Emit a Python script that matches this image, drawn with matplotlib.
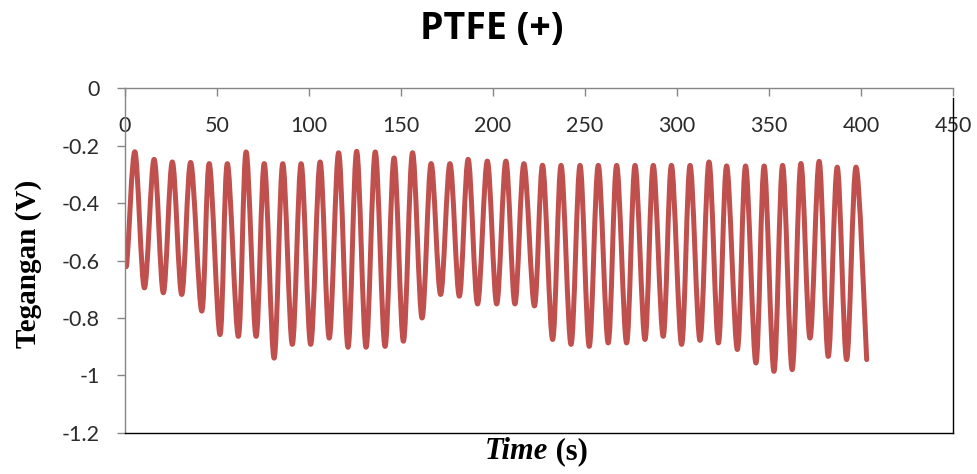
import numpy as np
import matplotlib
matplotlib.use("Agg")
import matplotlib.pyplot as plt
from matplotlib.path import Path
from matplotlib.patches import PathPatch

# PTFE (+) output voltage over time (peaks and troughs of each cycle)
time_s = [0, 1.0,
          5.4, 10.5, 15.8, 20.8, 25.7, 30.8, 35.7, 41.7, 45.8, 51.6,
          55.6, 61.6, 65.8, 71.2, 75.7, 81.0, 85.7, 90.9, 95.7, 100.9,
          106.0, 111.0, 116.1, 121.2, 125.9, 131.0, 136.0, 141.3, 146.2, 151.3,
          156.2, 161.4, 166.3, 171.5, 176.6, 181.7, 186.5, 191.6, 196.9, 202.0,
          207.0, 211.9, 216.8, 222.5, 227.0, 232.4, 237.0, 242.4, 247.3, 252.3,
          257.2, 262.6, 267.2, 272.6, 277.2, 282.6, 287.1, 292.5, 297.0, 302.5,
          307.1, 312.5, 317.4, 322.5, 327.0, 332.8, 337.3, 342.9, 347.4, 352.7,
          357.4, 362.6, 367.3, 372.3, 377.3, 382.2, 387.1, 392.2, 397.3, 403.1]
voltage = [-0.54, -0.607,
           -0.221, -0.695, -0.247, -0.712, -0.256, -0.718, -0.258, -0.776, -0.262, -0.858,
           -0.262, -0.864, -0.221, -0.864, -0.262, -0.940, -0.262, -0.892, -0.262, -0.892,
           -0.256, -0.870, -0.224, -0.902, -0.219, -0.902, -0.221, -0.899, -0.242, -0.881,
           -0.224, -0.800, -0.262, -0.718, -0.262, -0.724, -0.247, -0.751, -0.253, -0.751,
           -0.253, -0.751, -0.262, -0.758, -0.268, -0.875, -0.268, -0.892, -0.268, -0.899,
           -0.268, -0.887, -0.268, -0.887, -0.268, -0.875, -0.268, -0.864, -0.268, -0.892,
           -0.268, -0.878, -0.256, -0.887, -0.270, -0.910, -0.270, -0.957, -0.270, -0.986,
           -0.268, -0.980, -0.262, -0.870, -0.254, -0.934, -0.274, -0.945, -0.274, -0.945]

x_ticks = [0, 50, 100, 150, 200, 250, 300, 350, 400, 450]
y_ticks = [0, -0.2, -0.4, -0.6, -0.8, -1.0, -1.2]
y_tick_labels = ["0", "-0.2", "-0.4", "-0.6", "-0.8", "-1", "-1.2"]

LINE_RED = "#C0504D"
AXIS_GRAY = "#868686"


def smoothed_path(x, y):
    # Catmull-Rom style bezier through the points, like a "smoothed line" series
    pts = np.column_stack([x, y]).astype(float)
    ext = np.vstack([pts[0], pts, pts[-1]])
    verts = [pts[0]]
    codes = [Path.MOVETO]
    for i in range(len(pts) - 1):
        p0, p1, p2, p3 = ext[i], ext[i + 1], ext[i + 2], ext[i + 3]
        c1 = p1 + (p2 - p0) / 6.0
        c2 = p2 - (p3 - p1) / 6.0
        verts += [c1, c2, p2]
        codes += [Path.CURVE4] * 3
    return Path(verts, codes)


fig = plt.figure(figsize=(9.77, 4.74), dpi=100)
ax = fig.add_axes([0.128, 0.087, 0.8474, 0.7263])

patch = PathPatch(smoothed_path(time_s, voltage), fill=False, edgecolor=LINE_RED,
                  linewidth=3.6, capstyle="round", joinstyle="round",
                  transform=ax.transData)
ax.add_patch(patch)

ax.set_xlim(0, 450)
ax.set_ylim(-1.2, 0)

# x axis crosses at y = 0, so the time ticks sit on the top edge
ax.xaxis.set_ticks_position("top")
ax.set_xticks(x_ticks)
ax.set_xticklabels([str(v) for v in x_ticks])
ax.tick_params(axis="x", direction="in", length=6, width=1, color=AXIS_GRAY,
               pad=-34, labelsize=15.5, labelcolor="#2b2b2b")

ax.set_yticks(y_ticks)
ax.set_yticklabels(y_tick_labels)
ax.tick_params(axis="y", direction="out", length=6, width=1, color=AXIS_GRAY,
               pad=12, labelsize=15.5, labelcolor="#2b2b2b")

for lbl in ax.get_xticklabels() + ax.get_yticklabels():
    lbl.set_family("Lato")

ax.spines["top"].set_color(AXIS_GRAY)
ax.spines["left"].set_color(AXIS_GRAY)
ax.spines["right"].set_color("black")
ax.spines["bottom"].set_color("black")
for s in ax.spines.values():
    s.set_linewidth(1.0)
ax.spines["right"].set_bounds(-1.2, -0.033)

fig.text(0.503, 0.918, "PTFE (+)", ha="center", va="baseline",
         fontsize=27, fontweight="bold", family="Open Sans")

fig.text(0.029, 0.443, "Tegangan (V)", ha="center", va="center", rotation=90,
         fontsize=21, fontweight="bold", family="Liberation Serif")

t1 = fig.text(0.561, 0.016, "Time", ha="right", va="bottom", fontsize=22,
              fontweight="bold", fontstyle="italic", family="Liberation Serif")
ax.annotate(" (s)", xy=(1, 0), xycoords=t1, ha="left", va="bottom",
            fontsize=22, fontweight="bold", family="Liberation Serif",
            annotation_clip=False)

fig.savefig("out.png", dpi=100)
